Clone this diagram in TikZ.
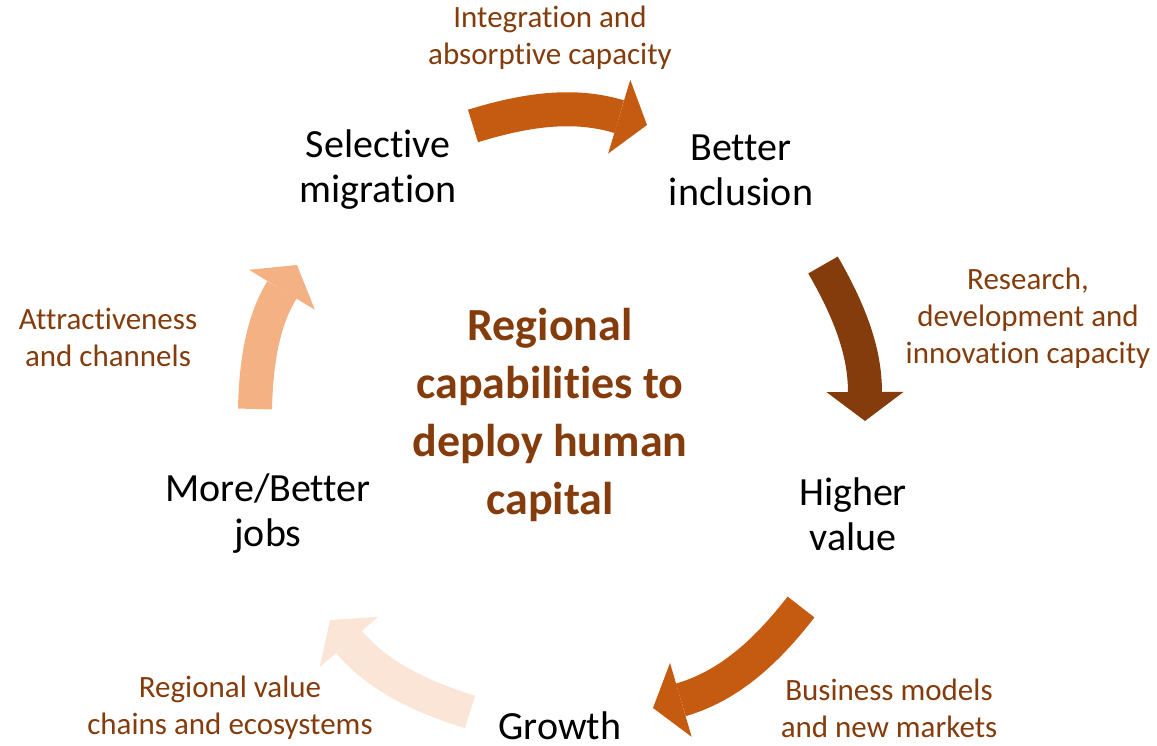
\documentclass[tikz,border=0pt]{standalone}
\usepackage{fontspec}
\setmainfont{Carlito}[Ligatures=NoCommon]
\usetikzlibrary{arrows.meta}
\definecolor{arrowMid}{HTML}{C55A11}
\definecolor{arrowDark}{HTML}{843C0C}
\definecolor{arrowPale}{HTML}{FBE5D6}
\definecolor{arrowLight}{HTML}{F4B183}
\definecolor{labelBrown}{HTML}{843C0C}
\begin{document}
\begin{tikzpicture}[x=1pt,y=-1pt,
  stage/.style={align=center, inner sep=0pt, text=black, font=\fontsize{40}{45}\selectfont},
  flowlabel/.style={align=center, inner sep=0pt, text=labelBrown, font=\fontsize{31}{37}\selectfont},
  titletext/.style={align=center, inner sep=0pt, text=labelBrown, font=\fontsize{46}{58}\selectfont\bfseries},
  blockarrow/.style={line width=34pt, line cap=butt,
    -{Triangle[length=29pt 0 0, width=77pt 0 0, line width=0pt 0 0]}}
]
\useasboundingbox (0,0) rectangle (1157,746);

% stages
\node[stage] (sel) at (378,170) {Selective\\migration};
\node[stage] (inc) at (741,170) {Better\\inclusion};
\node[stage] (hv)  at (853,514) {Higher\\value};
\node[stage] (gr)  at (560,726) {Growth};
\node[stage] (jobs) at (268,514) {More/Better\\jobs};

% centre
\node[titletext] (ctr) at (550,415) {Regional\\capabilities to\\deploy human\\capital};

% labels
\node[flowlabel] (l1) at (550,38) {Integration and\\absorptive capacity};
\node[flowlabel] (l2) at (1028,318) {Research,\\development and\\innovation capacity};
\node[flowlabel] (l3) at (889,708) {Business models\\and new markets};
\node[flowlabel] (l4) at (230,708) {Regional value\\chains and ecosystems};
\node[flowlabel] (l5) at (108,337) {Attractiveness\\and channels};

% arrow ends
\coordinate (a1s) at (473,126); \coordinate (a1e) at (647,125);
\coordinate (a2s) at (823,265); \coordinate (a2e) at (865,421);
\coordinate (a3s) at (801,607); \coordinate (a3e) at (653,708);
\coordinate (a4s) at (470,712); \coordinate (a4e) at (330,620);
\coordinate (a5s) at (255,409); \coordinate (a5e) at (297,265);

\draw[blockarrow, draw=arrowMid, arrowMid] (a1s) to[bend left=17] (a1e);
\draw[blockarrow, draw=arrowDark, arrowDark] (a2s) to[bend left=15] (a2e);
\draw[blockarrow, draw=arrowMid, arrowMid] (a3s) to[bend left=18] (a3e);
\draw[blockarrow, draw=arrowPale, arrowPale] (a4s) to[bend left=16] (a4e);
\draw[blockarrow, draw=arrowLight, arrowLight] (a5s) to[bend left=15] (a5e);
\end{tikzpicture}
\end{document}
